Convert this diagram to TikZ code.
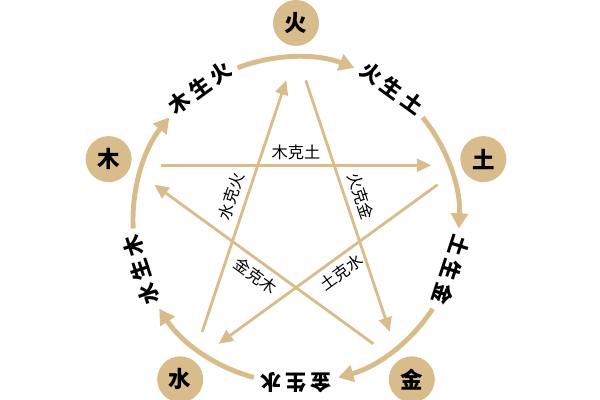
\documentclass[tikz,border=0pt]{standalone}
\usepackage{fontspec}
\setmainfont{Noto Sans CJK SC}
\usepackage{xcolor}
\usetikzlibrary{arrows.meta, positioning, calc}
\definecolor{wx}{RGB}{217,188,140}

\begin{document}
\begin{tikzpicture}[
    elem/.style={circle, fill=wx, minimum size=1.15cm, inner sep=0pt, font=\fontsize{16}{16}\selectfont\bfseries},
    shengtext/.style={inner sep=0pt, font=\fontsize{15}{15}\selectfont\bfseries},
    shengline/.style={draw=wx, line width=3.5pt, -{Triangle[length=0.38cm, width=0.42cm]}},
    keline/.style={draw=wx, line width=2pt, -{Triangle[length=0.36cm, width=0.32cm]}},
    ketext/.style={sloped, inner sep=0pt, font=\fontsize{11.5}{11.5}\selectfont}
  ]
        \useasboundingbox (-7.4,-4.5) rectangle (7.6,5.5);

        % Elements
        \node[elem] (Huo) at (90:4.925) {火};
        \node[elem] (Tu) at (18:4.925) {土};
        \node[elem] (Jin) at (-54:4.925) {金};
        \node[elem] (Shui) at (-126:4.925) {水};
        \node[elem] (Mu) at (162:4.925) {木};

        % Generating cycle (outer ring)
        \node[shengtext, rotate=36] (MuHuo) at (126:4.075) {木\kern3pt生\kern3pt火};
        \node[shengtext, rotate=-36] (HuoTu) at (54:4.075) {火\kern3pt生\kern3pt土};
        \node[shengtext, rotate=-108] (TuJin) at (-18:4.075) {土\kern3pt生\kern3pt金};
        \node[shengtext, rotate=180] (JinShui) at (-90:4.075) {金\kern3pt生\kern3pt水};
        \node[shengtext, rotate=108] (ShuiMu) at (-162:4.075) {水\kern3pt生\kern3pt木};

        \foreach \a/\n in {126/a, 54/b, -18/c, -90/d, -162/e} {
            \coordinate (g\n) at (\a-15:4.075);
            \draw[shengline] (g\n) arc[start angle=\a-15, end angle=\a-57, radius=4.075];
        }

        % Controlling star: end points near each element
        \foreach \a/\n/\r in {90/Huo/3.5, 18/Tu/3.65, -54/Jin/3.65, -126/Shui/3.65, 162/Mu/3.65} {
            \coordinate (\n-out) at (\a-4:\r);
            \coordinate (\n-in) at (\a+4:\r);
        }

        \draw[keline] (Mu-out) -- node[ketext, above=3pt] (MuTu) {木克土} (Tu-in);
        \draw[keline] (Tu-out) -- node[ketext, pos=0.48, below=4pt] (TuShui) {土克水} (Shui-in);
        \draw[keline] (Shui-out) -- node[ketext, pos=0.52, above=4.5pt] (ShuiHuo) {水克火} (Huo-in);
        \draw[keline] (Huo-out) -- node[ketext, pos=0.48, above=4.5pt] (HuoJin) {火克金} (Jin-in);
        \draw[keline] (Jin-out) -- node[ketext, pos=0.5, below=4pt] (JinMu) {金克木} (Mu-in);

\end{tikzpicture}
\end{document}
